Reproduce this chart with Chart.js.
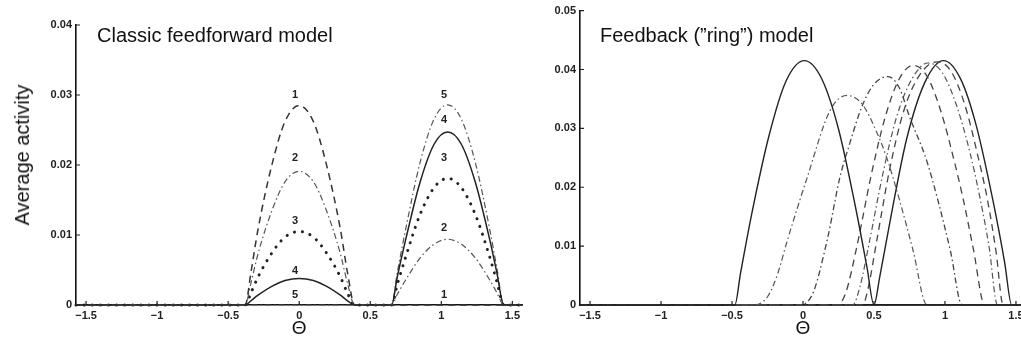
<!doctype html>
<html lang="en">
  <head>
    <meta charset="utf-8">
    <title>Feedforward vs ring model</title>
    <style>
      * { margin: 0; padding: 0; }
      html, body { width: 1021px; height: 343px; overflow: hidden; background: #fff; }
      body { position: relative; font-family: 'Liberation Sans', Arial, sans-serif; color: #111; }
      canvas { position: absolute; top: 0; }
      #ffChart { left: 0; }
      #ringChart { left: 524px; }
      .panelTitle { position: absolute; top: 24px; font-size: 20px; line-height: 22px; white-space: nowrap; }
      .yTitle {
        position: absolute; left: 22px; top: 155px; font-size: 20px; line-height: 22px;
        white-space: nowrap; transform: translate(-50%, -50%) rotate(-90deg);
      }
    </style>
  </head>
  <body>
    <canvas id="ffChart" width="524" height="343"></canvas>
    <canvas id="ringChart" width="506" height="343"></canvas>
    <div class="panelTitle" style="left:97px">Classic feedforward model</div>
    <div class="panelTitle" style="left:600px">Feedback (”ring”) model</div>
    <div class="yTitle">Average activity</div>

    <script src="https://cdn.jsdelivr.net/npm/chart.js"></script>
    <script>
    // ---- data: classic feedforward model (shared theta grid) ----
    const thetaFF = [-1.5708, -0.38, -0.34, -0.29, -0.19, -0.10, 0, 0.10, 0.19, 0.29, 0.34, 0.39,
                     0.65, 0.69, 0.75, 0.85, 0.95, 1.045, 1.14, 1.24, 1.34, 1.39, 1.44, 1.5708];
    const ff1 = [0, 0, 0.0046, 0.0108, 0.0202, 0.0262, 0.0285, 0.0262, 0.0202, 0.0108, 0.0046, 0,
                 0, 0, 0, 0, 0, 0, 0, 0, 0, 0, 0, 0];
    const ff2 = [0, 0, 0.0031, 0.0073, 0.0136, 0.0176, 0.0191, 0.0176, 0.0136, 0.0073, 0.0031, 0,
                 0, 0.0015, 0.0036, 0.0067, 0.0087, 0.0094, 0.0087, 0.0067, 0.0036, 0.0018, 0, 0];
    const ff3 = [0, 0, 0.0017, 0.0040, 0.0075, 0.0097, 0.0105, 0.0097, 0.0075, 0.0040, 0.0017, 0,
                 0, 0.0029, 0.0069, 0.0129, 0.0168, 0.0181, 0.0168, 0.0129, 0.0069, 0.0034, 0, 0];
    const ff4 = [0, 0, 0.0006, 0.0014, 0.0027, 0.0035, 0.0038, 0.0035, 0.0027, 0.0014, 0.0006, 0,
                 0, 0.0040, 0.0094, 0.0175, 0.0230, 0.0247, 0.0230, 0.0175, 0.0094, 0.0047, 0, 0];
    const ff5 = [0, 0, 0, 0, 0, 0, 0, 0, 0, 0, 0, 0,
                 0, 0.0046, 0.0109, 0.0203, 0.0266, 0.0286, 0.0266, 0.0203, 0.0109, 0.0054, 0, 0];
    const ffLabelText = ['1', '2', '3', '4', '5', '5', '4', '3', '2', '1'];
    const ffLabelTheta = [-0.03, -0.03, -0.03, -0.03, -0.03, 1.02, 1.02, 1.02, 1.02, 1.02];
    const ffLabelValue = [0.0300, 0.0210, 0.0120, 0.0049, 0.0014, 0.0300, 0.0265, 0.0210, 0.0110, 0.0014];

    // ---- data: feedback ("ring") model, [theta, activity] ----
    const ring1 = [[-1.5708, 0], [-0.48, 0], [-0.44, 0.0054], [-0.36, 0.0156], [-0.24, 0.0287], [-0.12, 0.0380],
                   [0.01, 0.0415], [0.13, 0.0385], [0.25, 0.0299], [0.37, 0.0166], [0.45, 0.0065], [0.50, 0], [1.5708, 0]];
    const ring2 = [[-1.5708, 0], [-0.35, 0], [-0.25, 0.0014], [-0.18, 0.0052], [-0.11, 0.0110], [0.03, 0.0217],
                   [0.19, 0.0330], [0.31, 0.0356], [0.42, 0.0340], [0.52, 0.0293], [0.59, 0.0250], [0.68, 0.0178],
                   [0.775, 0.0093], [0.873, 0], [1.5708, 0]];
    const ring3 = [[-1.5708, 0], [-0.04, 0], [0.06, 0.0015], [0.17, 0.0110], [0.26, 0.0217], [0.33, 0.0275],
                   [0.42, 0.0340], [0.50, 0.0375], [0.60, 0.0388], [0.68, 0.0368], [0.75, 0.0320], [0.87, 0.0246],
                   [0.95, 0.0178], [1.04, 0.0090], [1.12, 0], [1.5708, 0]];
    const ring4 = [[-1.5708, 0], [0.24, 0], [0.30, 0.0020], [0.38, 0.0100], [0.48, 0.0220], [0.58, 0.0320],
                   [0.68, 0.0385], [0.775, 0.0407], [0.87, 0.0390], [0.97, 0.0330], [1.07, 0.0240], [1.13, 0.0178],
                   [1.20, 0.0095], [1.28, 0], [1.5708, 0]];
    const ring5 = [[-1.5708, 0], [0.35, 0], [0.40, 0.0030], [0.47, 0.0110], [0.56, 0.0220], [0.66, 0.0320],
                   [0.77, 0.0385], [0.88, 0.0411], [0.98, 0.0395], [1.08, 0.0340], [1.18, 0.0255], [1.25, 0.0178],
                   [1.31, 0.0100], [1.37, 0], [1.5708, 0]];
    const ring6 = [[-1.5708, 0], [0.42, 0], [0.46, 0.0030], [0.52, 0.0110], [0.61, 0.0230], [0.71, 0.0330],
                   [0.82, 0.0390], [0.94, 0.0413], [1.04, 0.0398], [1.14, 0.0340], [1.23, 0.0255], [1.30, 0.0178],
                   [1.36, 0.0090], [1.41, 0], [1.5708, 0]];
    const ring7 = [[-1.5708, 0], [0.50, 0], [0.54, 0.0047], [0.62, 0.0151], [0.73, 0.0282], [0.86, 0.0379],
                   [0.99, 0.0415], [1.11, 0.0384], [1.22, 0.0305], [1.34, 0.0175], [1.42, 0.0073], [1.47, 0], [1.5708, 0]];

    const xTicks = [-1.5, -1, -0.5, 0, 0.5, 1, 1.5];

    // line styles
    const SOLID = [];
    const DASH = [7, 5];
    const DASHDOT = [6, 3, 1.5, 3];
    const DOTS = [0.1, 8];
    const FONT = "'Liberation Sans', Arial, sans-serif";

    function line(points, dash, width, color, cap) {
      return {
        data: points,
        borderColor: color,
        borderWidth: width,
        borderDash: dash,
        borderCapStyle: cap || 'butt',
        pointRadius: 0,
        cubicInterpolationMode: 'monotone',
        clip: false,
        fill: false
      };
    }

    const pairsFF = ys => thetaFF.map((x, i) => ({x: x, y: ys[i]}));
    const pairsRing = arr => arr.map(p => ({x: p[0], y: p[1]}));

    function fmtX(v) {
      return v < 0 ? '\u2212' + Math.abs(v) : String(v);
    }

    // inward MATLAB style tick marks + numbered labels
    const matlabTicks = {
      id: 'matlabTicks',
      afterDraw(chart, args, opts) {
        const ctx = chart.ctx;
        const x = chart.scales.x, y = chart.scales.y;
        const area = chart.chartArea;
        ctx.save();
        ctx.strokeStyle = '#222';
        ctx.lineWidth = 1.2;
        ctx.beginPath();
        xTicks.forEach(v => {
          const px = x.getPixelForValue(v);
          ctx.moveTo(px, area.bottom);
          ctx.lineTo(px, area.bottom - 4);
        });
        y.ticks.forEach(t => {
          const py = y.getPixelForValue(t.value);
          ctx.moveTo(area.left, py);
          ctx.lineTo(area.left + 4, py);
        });
        ctx.stroke();
        if (opts.text) {
          ctx.fillStyle = '#222';
          ctx.font = 'bold 11px ' + FONT;
          ctx.textAlign = 'center';
          ctx.textBaseline = 'middle';
          opts.text.forEach((s, i) => {
            ctx.fillText(s, x.getPixelForValue(opts.theta[i]), y.getPixelForValue(opts.value[i]));
          });
        }
        ctx.restore();
      }
    };

    function makeOptions(yMax, yWidth, pad, labels) {
      return {
        responsive: false,
        animation: false,
        layout: {padding: pad},
        plugins: {legend: {display: false}, tooltip: {enabled: false}, matlabTicks: labels},
        scales: {
          x: {
            type: 'linear',
            min: -Math.PI / 2,
            max: Math.PI / 2,
            afterBuildTicks: s => { s.ticks = xTicks.map(v => ({value: v})); },
            afterFit: s => { s.height = 38; },
            grid: {display: false, drawTicks: false},
            border: {display: true, color: '#111', width: 1.6},
            ticks: {
              padding: 4,
              color: '#222',
              font: {family: FONT, size: 11, weight: 'bold'},
              maxRotation: 0,
              autoSkip: false,
              callback: v => fmtX(v)
            },
            title: {
              display: true,
              text: '\u0398',
              color: '#111',
              font: {family: FONT, size: 19},
              padding: {top: 0, bottom: 3}
            }
          },
          y: {
            min: 0,
            max: yMax,
            afterFit: s => { s.width = yWidth; },
            grid: {display: false, drawTicks: false},
            border: {display: true, color: '#111', width: 1.6},
            ticks: {
              stepSize: 0.01,
              padding: 4,
              color: '#222',
              font: {family: FONT, size: 11, weight: 'bold'},
              callback: v => v === 0 ? '0' : v.toFixed(2)
            }
          }
        }
      };
    }

    new Chart(document.getElementById('ffChart'), {
      type: 'line',
      data: {
        datasets: [
          line(pairsFF(ff1), DASH, 1.5, '#333'),
          line(pairsFF(ff2), DASHDOT, 1.2, '#555'),
          line(pairsFF(ff3), DOTS, 3, '#222', 'round'),
          line(pairsFF(ff4), SOLID, 1.5, '#222'),
          line(pairsFF(ff5), DASHDOT, 1.2, '#555')
        ]
      },
      options: makeOptions(0.04, 76, {top: 25, right: 0, bottom: 0, left: 0},
        {text: ffLabelText, theta: ffLabelTheta, value: ffLabelValue}),
      plugins: [matlabTicks]
    });

    new Chart(document.getElementById('ringChart'), {
      type: 'line',
      data: {
        datasets: [
          line(pairsRing(ring1), SOLID, 1.4, '#222'),
          line(pairsRing(ring2), DASHDOT, 1.2, '#555'),
          line(pairsRing(ring3), DASHDOT, 1.3, '#444'),
          line(pairsRing(ring4), DASH, 1.3, '#444'),
          line(pairsRing(ring5), DASHDOT, 1.2, '#555'),
          line(pairsRing(ring6), DASH, 1.3, '#444'),
          line(pairsRing(ring7), SOLID, 1.4, '#222')
        ]
      },
      options: makeOptions(0.05, 56, {top: 10, right: 4, bottom: 0, left: 0}, {}),
      plugins: [matlabTicks]
    });
    </script>
  </body>
</html>
